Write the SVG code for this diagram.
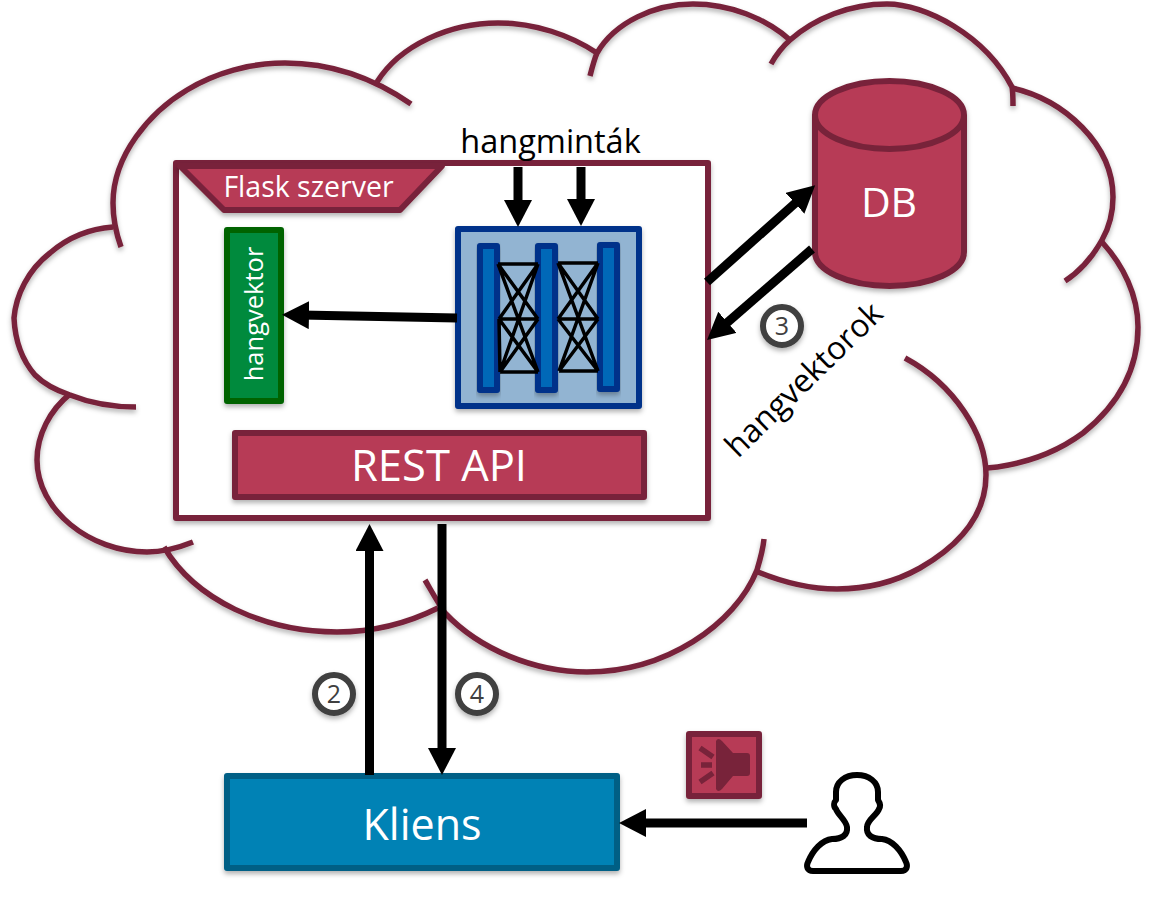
<svg xmlns="http://www.w3.org/2000/svg" width="1150" height="897" viewBox="0 0 1150 897">
<defs>
<filter id="sh" x="-20%" y="-20%" width="140%" height="150%"><feDropShadow dx="0" dy="3" stdDeviation="2.5" flood-color="#000" flood-opacity="0.3"/></filter>
<marker id="ah" markerUnits="userSpaceOnUse" markerWidth="30" markerHeight="30" refX="8" refY="14" orient="auto"><path d="M0,0L27,14L0,28Z" fill="#000"/></marker>
</defs>
<style>
text{font-family:"Open Sans","Noto Sans","Liberation Sans",sans-serif}
.cl{fill:none;stroke:#78233a;stroke-width:5.5}
.lbl{fill:#fff}
.maroon{fill:#b73a56;stroke:#78233a;stroke-width:6;stroke-linejoin:round}
.bar{fill:#0068b8;stroke:#00308a;stroke-width:6;stroke-linejoin:round}
.c{fill:none;stroke:#000;stroke-width:9}
.n{fill:none;stroke:#000;stroke-width:3.5}
.num{fill:#fff;stroke:#404040;stroke-width:6}
.numt{fill:#404040;font-size:25px;text-anchor:middle}
</style>
<g id="cloud" filter="url(#sh)">
<path class="cl" d="M411,104C372,77 330,63 285,63C250,63 215,73 187,90C150,112 113,155 113,203C113,219 116,233 121,247"/>
<path class="cl" d="M113,227C85,229 65,240 50,253C28,270 16,295 14,318C15,340 22,360 35,375C45,385 55,390 70,395C90,403 112,407 136,407"/>
<path class="cl" d="M70,394C50,410 37,435 37,460C37,510 90,552 147,552C163,552 178,548 193,542"/>
<path class="cl" d="M164,547C195,600 265,632 337,632C375,632 410,622 438,608"/>
<path class="cl" d="M425,580C432,592 438,603 445,613C480,650 535,672 587,672C665,672 735,625 757,570C760,560 763,550 764,539"/>
<path class="cl" d="M758,572C785,583 810,589 837,589C867,589 895,582 920,568C960,545 986,515 986,475C986,435 955,385 905,358"/>
<path class="cl" d="M987,468C1030,464 1060,450 1083,433C1118,405 1138,370 1138,327C1138,295 1123,265 1102,242"/>
<path class="cl" d="M1065,281C1082,270 1093,256 1102,240C1110,226 1113,212 1113,197C1113,145 1065,100 1012,88"/>
<path class="cl" d="M771,64C776,55 782,47 790,40C815,18 850,4 887,4C925,4 985,35 1012,87C1013,92 1013,100 1013,106"/>
<path class="cl" d="M590,76C592,68 594,60 597,53C615,22 655,4 693,4C730,4 765,18 790,40"/>
<path class="cl" d="M377,82C400,45 450,23 498,23C535,23 570,35 597,53"/>
</g>
<g id="flask-szerver">
<rect x="176" y="163" width="532" height="355" fill="#fff" stroke="#78233a" stroke-width="6" stroke-linejoin="round" filter="url(#sh)"/>
<path class="maroon" filter="url(#sh)" d="M180,166H442L400,210H224Z"/>
<text x="308.500" y="197" class="lbl" font-size="28.500" text-anchor="middle">Flask szerver</text>
</g>
<g id="hangvektor">
<rect x="227" y="230" width="54" height="171" fill="#008a3e" stroke="#006400" stroke-width="6" stroke-linejoin="round" filter="url(#sh)"/>
<text transform="translate(263,314) rotate(-90)" class="lbl" font-size="25.500" text-anchor="middle">hangvektor</text>
</g>
<g id="neural-net">
<rect x="458" y="229" width="181" height="177" fill="#92b4d2" stroke="#00308a" stroke-width="6" stroke-linejoin="round" filter="url(#sh)"/>
<rect class="bar" x="480" y="246" width="17" height="144" filter="url(#sh)"/>
<rect class="bar" x="538" y="246" width="17" height="144" filter="url(#sh)"/>
<rect class="bar" x="600" y="245" width="17" height="144" filter="url(#sh)"/>
<path class="n" d="M498,264H538M499,319H538M500,372H538M498,264L538,319M498,264L538,372M538,264L499,319M538,264L500,372M499,319L538,372M538,319L500,372M499,319L500,372"/>
<path class="n" d="M558,263H598M558,319H598M559,371H598M558,263L598,319M558,263L598,371M598,263L558,319M598,263L559,371M558,319L598,371M598,319L559,371"/>
</g>
<g id="rest-api">
<rect class="maroon" x="235" y="433" width="409" height="64" filter="url(#sh)"/>
<text x="439" y="481" class="lbl" font-size="43.500" text-anchor="middle">REST API</text>
</g>
<g id="db">
<path class="maroon" filter="url(#sh)" d="M815,115A74.500,34 0 0 1 964,115V252A74.500,34 0 0 1 815,252Z"/>
<path fill="none" stroke="#78233a" stroke-width="6" d="M815,115A74.500,34 0 0 0 964,115"/>
<text x="889" y="217" class="lbl" font-size="41" text-anchor="middle">DB</text>
</g>
<g id="kliens">
<rect x="227" y="776" width="390" height="92" fill="#0082b5" stroke="#005f85" stroke-width="6" stroke-linejoin="round" filter="url(#sh)"/>
<text x="422" y="840" class="lbl" font-size="43" text-anchor="middle">Kliens</text>
</g>
<g id="audio-icon">
<rect x="689" y="734" width="70" height="62" fill="#b73a56" stroke="#78233a" stroke-width="6" stroke-linejoin="round" filter="url(#sh)"/>
<path fill="#78233a" d="M716,741Q718,737 722,741L733,753H747Q750,753 750,756V773Q750,776 747,776H733L722,789Q718,793 716,789Z"/>
<path fill="none" stroke="#78233a" stroke-width="5.500" d="M700,748L713,757M701,765H712M700,782L713,773"/>
</g>
<g id="user">
<path fill="#fff" stroke="#000" stroke-width="6" stroke-linejoin="round" d="M813,871C807,871 806,866 808,862C813,850 822,840 832,839C842,839 848,835 847,827C846,820 838,815 836,809C833,806 834,802 836,800L836,792C836,782 845,775 857,775C869,775 878,782 878,792L878,800C880,803 881,806 879,809C877,815 867,820 867,827C866,835 872,839 882,839C892,840 901,850 906,862C908,866 907,871 901,871Z"/>
</g>
<g id="connectors" fill="none">
<path class="c" d="M442,524V756" marker-end="url(#ah)"/>
<path class="c" d="M369.500,775V543" marker-end="url(#ah)"/>
<path class="c" d="M807,823H638" marker-end="url(#ah)"/>
<path class="c" d="M457,318L301,315" marker-end="url(#ah)"/>
<path class="c" d="M518,167V208" marker-end="url(#ah)"/>
<path class="c" d="M581,167V207" marker-end="url(#ah)"/>
<path class="c" d="M707,282L801,198" marker-end="url(#ah)"/>
<path class="c" d="M812,249L721.400,327.600" marker-end="url(#ah)"/>
</g>
<g id="labels">
<text x="550.500" y="153" font-size="32.500" text-anchor="middle">hangminták</text>
<text transform="translate(738,459) rotate(-44.300)" font-size="32">hangvektorok</text>
</g>
<g id="step-2"><circle class="num" cx="334" cy="694" r="19" filter="url(#sh)"/><text class="numt" x="334" y="703">2</text></g>
<g id="step-3"><circle class="num" cx="782" cy="326" r="19" filter="url(#sh)"/><text class="numt" x="782" y="335">3</text></g>
<g id="step-4"><circle class="num" cx="477" cy="694" r="19" filter="url(#sh)"/><text class="numt" x="477" y="703">4</text></g>
</svg>
